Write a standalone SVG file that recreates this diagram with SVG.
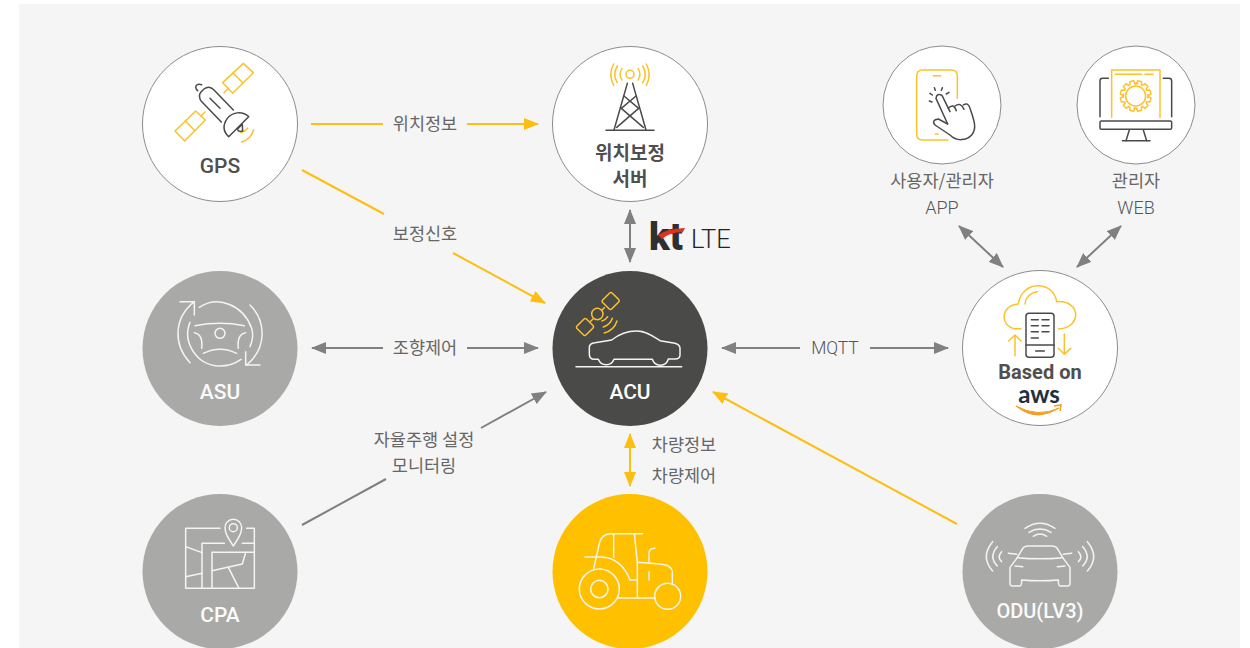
<svg xmlns="http://www.w3.org/2000/svg" width="1250" height="648" viewBox="0 0 1250 648">
<style>
.ko{font-family:"Noto Sans CJK KR","Noto Sans",sans-serif}
.lb{font-size:17.5px;fill:#666;text-anchor:middle}
.la{font-family:Roboto,sans-serif;font-weight:300;fill:#555;font-size:18px}
.nm{font-family:Roboto,"Noto Sans CJK KR",sans-serif;font-weight:500;font-size:21px;text-anchor:middle}
.b{font-family:"Noto Sans CJK KR",sans-serif;font-weight:700;font-size:19px;fill:#4f4f4f;text-anchor:middle}
.w{fill:#fbfbfa}
.d{fill:#4f4f4f}
.c{fill:#fff;stroke:#8c8c8c;stroke-width:1}
.i path,.i line,.i circle,.i rect{fill:none;stroke-width:1.5;vector-effect:non-scaling-stroke;stroke-linecap:round;stroke-linejoin:round}
.y path,.y line,.y circle,.y rect{stroke:#fdc22a}
.k path,.k line,.k circle,.k rect{stroke:#4a4a4a}
.h path,.h line,.h circle,.h rect{stroke:#f4f4f2}
.ly{stroke:#fdbe12;stroke-width:2;fill:none}
.lg{stroke:#808080;stroke-width:2;fill:none}
</style>
<defs>
<marker id="ay" markerUnits="userSpaceOnUse" markerWidth="15" markerHeight="12" refX="14" refY="6" orient="auto-start-reverse"><path d="M0 0L15 6L0 12Z" fill="#fdbe12"/></marker>
<marker id="ag" markerUnits="userSpaceOnUse" markerWidth="15" markerHeight="12" refX="14" refY="6" orient="auto-start-reverse"><path d="M0 0L15 6L0 12Z" fill="#808080"/></marker>
</defs>
<rect x="19" y="4" width="1221" height="644" fill="#f5f5f5"/>
<g id="connectors">
<line class="ly" x1="311" y1="124" x2="383" y2="124"/>
<line class="ly" x1="467" y1="124" x2="538" y2="124" marker-end="url(#ay)"/>
<line class="ly" x1="302" y1="170" x2="384" y2="214"/>
<line class="ly" x1="453" y1="253" x2="545" y2="303" marker-end="url(#ay)"/>
<line class="lg" x1="630" y1="210" x2="630" y2="262" marker-start="url(#ag)" marker-end="url(#ag)"/>
<line class="lg" x1="312" y1="348" x2="383" y2="348" marker-start="url(#ag)"/>
<line class="lg" x1="467" y1="348" x2="538" y2="348" marker-end="url(#ag)"/>
<line class="lg" x1="302" y1="525" x2="386" y2="479"/>
<line class="lg" x1="481" y1="428" x2="546" y2="392" marker-end="url(#ag)"/>
<line class="ly" x1="630" y1="434" x2="630" y2="486" marker-start="url(#ay)" marker-end="url(#ay)"/>
<line class="lg" x1="722" y1="348" x2="800" y2="348" marker-start="url(#ag)"/>
<line class="lg" x1="870" y1="348" x2="948" y2="348" marker-end="url(#ag)"/>
<line class="ly" x1="957" y1="524" x2="713" y2="392" marker-end="url(#ay)"/>
<line class="lg" x1="959" y1="226" x2="1003" y2="267" marker-start="url(#ag)" marker-end="url(#ag)"/>
<line class="lg" x1="1121" y1="226" x2="1077" y2="267" marker-start="url(#ag)" marker-end="url(#ag)"/>
<g class="ko">
<text class="lb" x="425" y="130">위치정보</text>
<text class="lb" x="425" y="240">보정신호</text>
<text class="lb" x="425" y="354">조향제어</text>
<text class="lb" x="424" y="446">자율주행 설정</text>
<text class="lb" x="424" y="472">모니터링</text>
<text class="lb" x="684" y="451">차량정보</text>
<text class="lb" x="684" y="482">차량제어</text>
<text class="lb la" x="835" y="354" style="font-size:17.5px">MQTT</text>
</g>
</g>
<g id="gps">
<circle class="c" cx="220" cy="124" r="77.5"/>
<g class="i" transform="translate(130,30) scale(.33333)">
<g class="y"><path d="M340 100L370 128L308 190L278 158Z"/><line x1="309" y1="129" x2="339" y2="159"/><line x1="295" y1="175" x2="282" y2="188"/><path d="M197 243L226 270L164 333L135 303Z"/><line x1="166" y1="273" x2="195" y2="302"/><line x1="213" y1="258" x2="225" y2="246"/><path d="M333 308Q345 305 353 295"/><path d="M335 336Q362 328 371 299"/></g>
<g class="k"><path d="M310 240L252 180Q238 165 222 177L213 186Q203 198 214 214L274 276"/><line x1="240" y1="205" x2="270" y2="235"/><path d="M215 164Q198 160 197 172Q198 178 203 182"/><path d="M296 320L356 260C335 240 305 248 292 265C278 285 280 305 296 320Z"/><path d="M322 298L337 283L338 303Q325 307 322 298Z"/></g>
</g>
<text class="nm d" x="220" y="173">GPS</text>
</g>
<g id="server">
<circle class="c" cx="630" cy="124" r="77.5"/>
<g class="i" transform="translate(540,40) scale(.33333)">
<g class="y"><circle cx="270" cy="103" r="12"/><path d="M246 86Q234 103 246 120"/><path d="M294 86Q306 103 294 120"/><path d="M232 78Q216 103 232 128"/><path d="M308 78Q324 103 308 128"/><path d="M221 72Q204 103 221 136"/><path d="M319 72Q336 103 319 136"/></g>
<g class="k"><line x1="262" y1="130" x2="222" y2="270"/><line x1="278" y1="130" x2="318" y2="270"/><line x1="198" y1="271" x2="342" y2="271"/><line x1="252" y1="168" x2="296" y2="205"/><line x1="288" y1="168" x2="244" y2="205"/><line x1="244" y1="205" x2="310" y2="262"/><line x1="296" y1="205" x2="230" y2="262"/></g>
</g>
<text class="b" x="630" y="160">위치보정</text>
<text class="b" x="630" y="186">서버</text>
</g>
<g id="lte">
<text x="649" y="250" style="font-family:Roboto,sans-serif;font-weight:900;font-size:38px" fill="#2f2f2f">kt</text>
<path d="M658 235Q666 229 685 228L683 232Q670 232 662 239Z" fill="#e0301e"/>
<text x="691" y="248" style="font-family:Roboto,sans-serif;font-weight:300;font-size:25.5px" fill="#222">LTE</text>
</g>
<g id="app">
<circle class="c" cx="942" cy="105" r="59"/>
<g class="i" transform="translate(870,40) scale(.33333)">
<g class="y"><path d="M262 175V108Q262 90 244 90H158Q140 90 140 108V282Q140 300 158 300H234"/><line x1="190" y1="107" x2="212" y2="107"/><line x1="196" y1="282" x2="205" y2="282"/></g>
<g class="k"><path d="M233 252L198 175Q200 158 216 166L240 215"/><path d="M235 205Q250 188 259 212"/><path d="M255 198Q272 185 282 208"/><path d="M280 195Q294 185 300 205C312 240 322 265 305 285C290 302 260 305 240 285L195 255Q183 240 205 237L233 252"/><line x1="178" y1="183" x2="186" y2="186"/><line x1="180" y1="160" x2="187" y2="165"/><line x1="193" y1="143" x2="196" y2="151"/><line x1="217" y1="143" x2="214" y2="151"/><line x1="237" y1="157" x2="229" y2="162"/></g>
</g>
<text class="lb ko" x="942" y="187">사용자/관리자</text>
<text class="lb la" x="942" y="214">APP</text>
</g>
<g id="web">
<circle class="c" cx="1136" cy="105" r="59"/>
<g class="i" transform="translate(870,40) scale(.33333)">
<g class="y"><path d="M725 232V90H870V232"/><line x1="736" y1="103" x2="815" y2="103"/><line x1="825" y1="103" x2="860" y2="103" stroke-dasharray="8 6"/><circle cx="797" cy="168" r="30"/><circle cx="797" cy="168" r="37" stroke-dasharray="3.4 16" stroke-dashoffset="1.7"/>
<g transform="translate(797,168)"><path d="M-8 -36L-6 -46H6L8 -36" transform="rotate(15)"/><path d="M-8 -36L-6 -46H6L8 -36" transform="rotate(45)"/><path d="M-8 -36L-6 -46H6L8 -36" transform="rotate(75)"/><path d="M-8 -36L-6 -46H6L8 -36" transform="rotate(105)"/><path d="M-8 -36L-6 -46H6L8 -36" transform="rotate(135)"/><path d="M-8 -36L-6 -46H6L8 -36" transform="rotate(165)"/><path d="M-8 -36L-6 -46H6L8 -36" transform="rotate(195)"/><path d="M-8 -36L-6 -46H6L8 -36" transform="rotate(225)"/><path d="M-8 -36L-6 -46H6L8 -36" transform="rotate(255)"/><path d="M-8 -36L-6 -46H6L8 -36" transform="rotate(285)"/><path d="M-8 -36L-6 -46H6L8 -36" transform="rotate(315)"/><path d="M-8 -36L-6 -46H6L8 -36" transform="rotate(345)"/></g></g>
<g class="k"><path d="M715 115H698Q690 115 690 123V230"/><path d="M880 115H897Q905 115 905 123V230"/><rect x="690" y="243" width="215" height="25" rx="4"/><line x1="778" y1="270" x2="768" y2="302"/><line x1="820" y1="270" x2="830" y2="302"/><line x1="757" y1="302" x2="840" y2="302"/></g>
</g>
<text class="lb ko" x="1136" y="187">관리자</text>
<text class="lb la" x="1136" y="214">WEB</text>
</g>
<g id="asu">
<circle cx="220" cy="348.5" r="77.5" fill="#a9a9a7"/>
<g class="i h" transform="translate(135,265) scale(.33333)">
<path d="M135 110H178V150"/><path d="M178 110C115 160 115 240 165 293"/>
<path d="M375 300H332V260"/><path d="M345 120C395 170 395 250 335 300"/>
<path d="M193 127C250 90 325 120 350 190Q358 215 345 245"/>
<path d="M165 172C140 235 190 305 255 303Q290 303 318 283"/>
<path d="M180 182Q255 168 328 182"/><circle cx="255" cy="205" r="15"/>
<path d="M178 203Q205 208 200 250"/><path d="M332 203Q305 208 310 250"/><path d="M205 265Q255 240 305 265"/>
</g>
<text class="nm w" x="220" y="399">ASU</text>
</g>
<g id="acu">
<circle cx="630" cy="348.5" r="77.5" fill="#4a4a48"/>
<g class="i" transform="translate(540,265) scale(.33333)">
<g class="y"><rect x="-20" y="-19" width="40" height="38" rx="5" transform="translate(212,108) rotate(-45)"/><rect x="-20" y="-19" width="40" height="38" rx="5" transform="translate(135,186) rotate(-45)"/><circle cx="172" cy="147" r="17"/><line x1="186" y1="135" x2="193" y2="128"/><line x1="159" y1="162" x2="152" y2="169"/><path d="M186 168Q197 165 203 155"/><path d="M190 186Q210 180 217 160"/><path d="M193 204Q222 196 231 168"/></g>
<g class="h"><path d="M175 283H163Q148 283 148 268V247Q148 235 165 233L215 225C240 205 265 198 290 198C320 198 340 215 360 227L405 235Q420 240 420 250V270Q420 282 405 282H385A25 25 0 0 1 337 283H222A25 25 0 0 1 175 283Z"/><line x1="108" y1="305" x2="425" y2="305"/></g>
</g>
<text class="nm w" x="630" y="399" style="fill:#fff">ACU</text>
</g>
<g id="aws">
<circle class="c" cx="1040" cy="348" r="77.5"/>
<g class="i" transform="translate(950,260) scale(.33333)">
<g class="y"><path d="M213 206H195C150 200 150 135 205 132C215 60 310 60 320 125C395 120 395 205 325 207"/><path d="M225 132Q228 100 262 95"/><line x1="195" y1="227" x2="195" y2="287"/><path d="M176 243L195 225L213 243"/><line x1="343" y1="222" x2="343" y2="283"/><path d="M325 265L343 283L362 265"/></g>
<g class="k"><rect x="228" y="160" width="84" height="132" rx="9"/><line x1="228" y1="255" x2="312" y2="255"/><line x1="257" y1="273" x2="283" y2="273"/><line x1="244" y1="179" x2="265" y2="179"/><line x1="276" y1="179" x2="297" y2="179"/><line x1="244" y1="197" x2="265" y2="197"/><line x1="276" y1="197" x2="297" y2="197"/><line x1="244" y1="215" x2="265" y2="215"/><line x1="276" y1="215" x2="297" y2="215"/><line x1="244" y1="234" x2="265" y2="234"/></g>
</g>
<text x="1040" y="379" class="nm d" style="font-weight:700;font-size:20px">Based on</text>
<text x="1039" y="403" text-anchor="middle" style="font-family:Lato,sans-serif;font-weight:700;font-size:24px" fill="#232f3e">aws</text>
<path d="M1016 406Q1038 418 1059 408Q1050 414 1039 415Q1027 415 1016 406Z" fill="#f0a020" stroke="#f0a020" stroke-width="1"/>
<path d="M1054 406L1061 405L1060 411" fill="none" stroke="#f0a020" stroke-width="1.5"/>
</g>
<g id="cpa">
<circle cx="220" cy="571.5" r="77.5" fill="#a9a9a7"/>
<g class="i h" transform="translate(135,490) scale(.33333)">
<path d="M255 115H152V295H358V115H335"/><path d="M295 168C280 145 270 130 270 113A25 25 0 0 1 320 113C320 130 310 145 295 168Z"/><circle cx="295" cy="113" r="12"/>
<path d="M268 160H201V295"/><line x1="322" y1="160" x2="358" y2="160"/><path d="M231 295V187H358"/><line x1="152" y1="170" x2="201" y2="188"/><line x1="152" y1="260" x2="201" y2="250"/><path d="M231 242L322 222L332 187"/><line x1="280" y1="232" x2="312" y2="295"/>
</g>
<text class="nm w" x="220" y="622">CPA</text>
</g>
<g id="tractor">
<circle cx="630" cy="571.5" r="77.5" fill="#ffc000"/>
<g class="i" transform="translate(545,490) scale(.33333)">
<g class="h"><path d="M146 236L163 160Q170 132 195 131H293"/><line x1="206" y1="131" x2="206" y2="202"/><path d="M268 131L277 217V322"/><path d="M120 201H165C210 200 240 230 255 270H277"/><path d="M277 217L345 222Q380 225 382 245V280"/><path d="M312 217V190Q312 175 330 175"/><line x1="312" y1="245" x2="312" y2="270"/><circle cx="163" cy="297" r="60"/><circle cx="163" cy="297" r="26"/><circle cx="368" cy="319" r="39"/><line x1="218" y1="324" x2="330" y2="324"/></g>
</g>
</g>
<g id="odu">
<circle cx="1040" cy="571.5" r="77.5" fill="#a9a9a7"/>
<g class="i h" transform="translate(955,490) scale(.33333)">
<path d="M210 115Q255 85 300 115"/><path d="M222 127Q255 107 288 127"/><path d="M235 139Q255 125 275 139"/>
<path d="M113 155Q75 200 113 243"/><path d="M127 170Q100 200 127 228"/><path d="M140 185Q125 200 140 215"/>
<path d="M397 155Q435 200 397 243"/><path d="M383 170Q410 200 383 228"/><path d="M370 185Q385 200 370 215"/>
<path d="M187 203L203 175Q208 168 220 168H290Q302 168 307 175L323 203Q255 210 187 203Z"/>
<path d="M187 203L165 232V280Q165 288 172 288H195Q200 288 200 270Q255 275 310 270Q310 288 315 288H338Q345 288 345 280V232L323 203"/>
<line x1="160" y1="190" x2="185" y2="193"/><line x1="350" y1="190" x2="325" y2="193"/><line x1="180" y1="228" x2="203" y2="230"/><line x1="307" y1="230" x2="330" y2="228"/>
</g>
<text class="nm w" x="1040" y="618" style="font-size:20px">ODU(LV3)</text>
</g>
</svg>
